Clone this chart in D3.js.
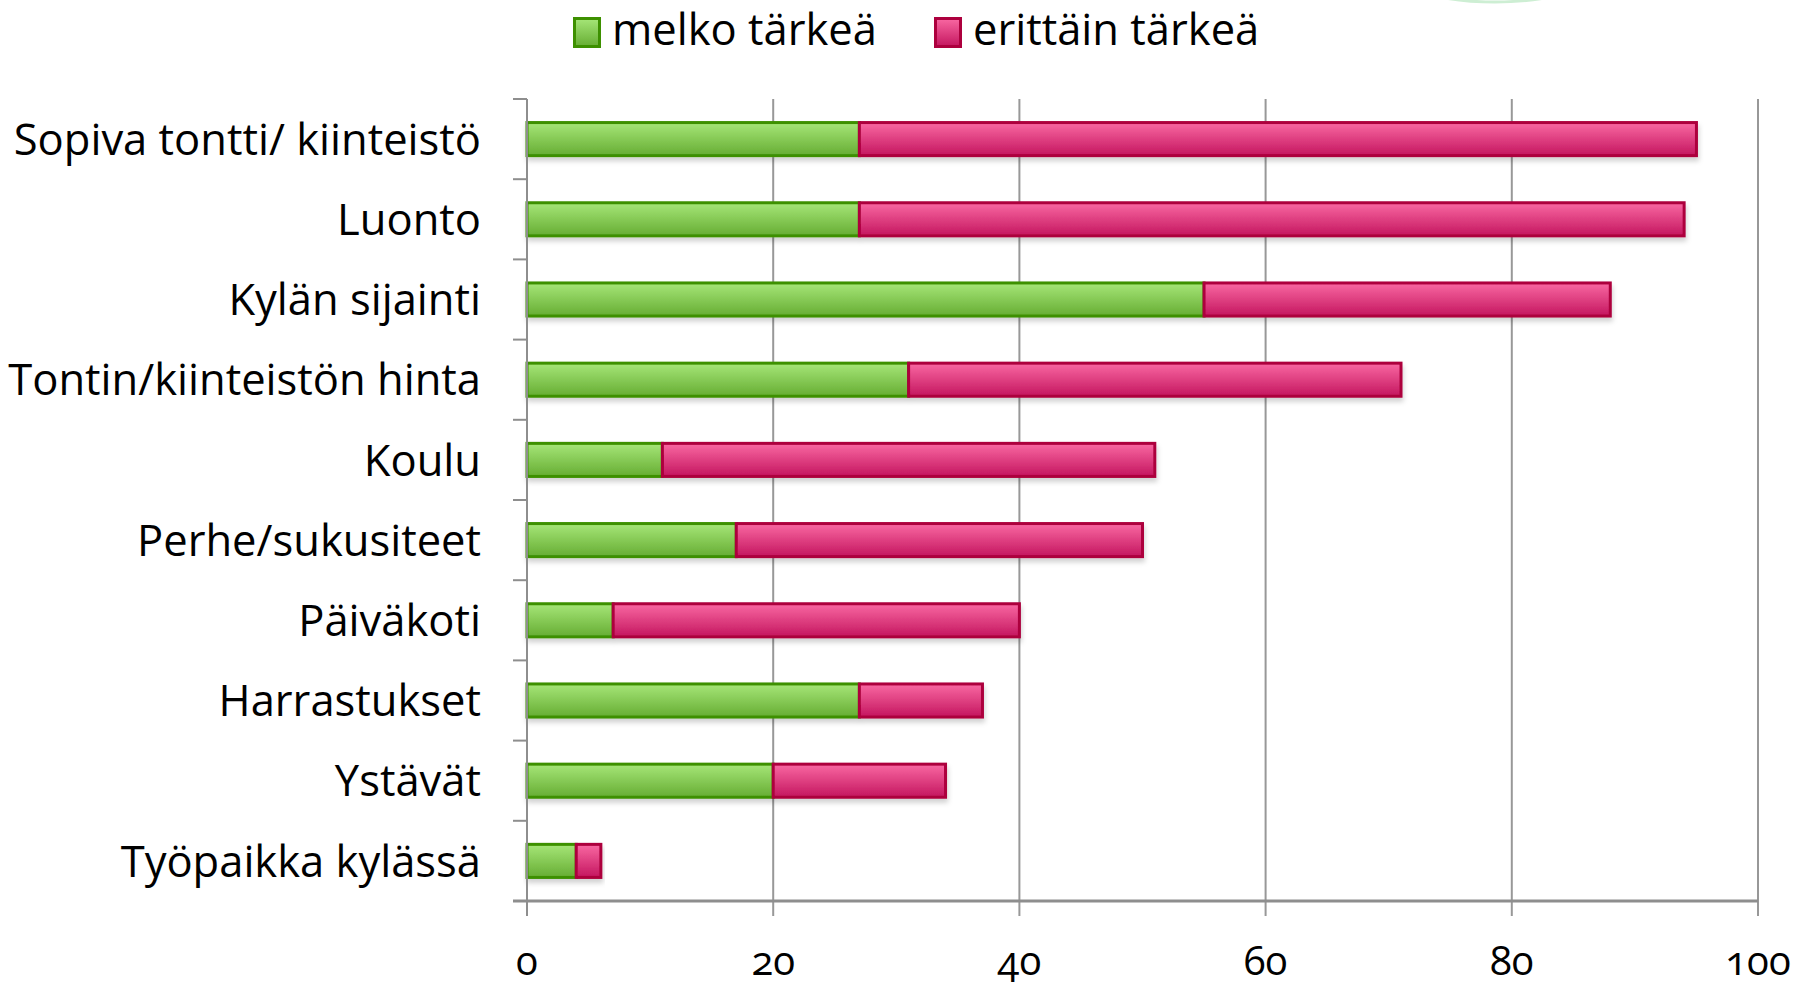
<!DOCTYPE html>
<html>
<head>
<meta charset="utf-8">
<script src="https://cdn.jsdelivr.net/npm/d3@7"></script>
<style>
  body { margin: 0; background: #fff; overflow: hidden; }
  svg { display: block; font-family: "Open Sans", Lato, sans-serif; }
  .num { font-variant-numeric: oldstyle-nums; font-feature-settings: "onum"; }
</style>
</head>
<body>
<svg id="chart" width="1798" height="984"></svg>
<script>
// data
const categories = ["Sopiva tontti/ kiinteistö", "Luonto", "Kylän sijainti", "Tontin/kiinteistön hinta",
  "Koulu", "Perhe/sukusiteet", "Päiväkoti", "Harrastukset", "Ystävät", "Työpaikka kylässä"];
const melko = [27, 27, 55, 31, 11, 17, 7, 27, 20, 4];
const erittain = [68, 67, 33, 40, 40, 33, 33, 10, 14, 2];
const seriesNames = ["melko tärkeä", "erittäin tärkeä"];
const xTicks = [0, 20, 40, 60, 80, 100];

const svg = d3.select('#chart');
const plotLeft = 527, plotRight = 1758, plotTop = 99, plotBottom = 901;

const x = d3.scaleLinear().domain([0, 100]).range([plotLeft, plotRight]);
const y = d3.scaleBand().domain(categories).range([plotTop, plotBottom]).paddingInner(0.55).paddingOuter(0.275);

// gradients for the bars
const defs = svg.append('defs');
function grad(id, c1, c2) {
    let g = defs.append('linearGradient').attr('id', id).attr('x1', 0).attr('x2', 0).attr('y1', 0).attr('y2', 1);
    g.append('stop').attr('offset', '0%').attr('stop-color', c1);
    g.append('stop').attr('offset', '100%').attr('stop-color', c2);
}
grad('gGreen', '#a6e678', '#66ad33');
grad('gPink', '#f968a2', '#c4165f');
defs.append('filter').attr('id', 'shadow').attr('x', '-5%').attr('y', '-20%').attr('width', '110%').attr('height', '160%')
    .append('feDropShadow').attr('dx', 1).attr('dy', 4).attr('stdDeviation', 2.5)
    .attr('flood-color', '#000').attr('flood-opacity', 0.18);

const colors = [
    { fill: 'url(#gGreen)', stroke: '#3d9000' },
    { fill: 'url(#gPink)', stroke: '#ad003e' }
];

// faint shape edge at the top
svg.append('ellipse').attr('cx', 1495).attr('cy', -40).attr('rx', 115).attr('ry', 42)
    .attr('fill', 'none').attr('stroke', '#cdeed3').attr('stroke-width', 3);

// gridlines
svg.append('g').selectAll('line')
    .data(xTicks.slice(1))
    .enter().append('line')
    .attr('x1', d => x(d)).attr('x2', d => x(d))
    .attr('y1', plotTop).attr('y2', plotBottom + 15)
    .attr('stroke', '#989898').attr('stroke-width', 2);

// stacked bars
const stacked = categories.map((c, i) => ({ cat: c, vals: [melko[i], erittain[i]] }));
const rows = svg.append('g').selectAll('g')
    .data(stacked)
    .enter().append('g')
    .attr('filter', 'url(#shadow)');

rows.each(function (d) {
    let g = d3.select(this);
    let start = 0;
    d.vals.forEach((v, k) => {
        g.append('rect')
            .attr('x', x(start))
            .attr('y', y(d.cat) + 1.5)
            .attr('width', x(start + v) - x(start))
            .attr('height', y.bandwidth() - 3)
            .attr('fill', colors[k].fill)
            .attr('stroke', colors[k].stroke)
            .attr('stroke-width', 3);
        start += v;
    });
});

// axes
const axisColor = '#8e8e8e';
svg.append('line').attr('x1', plotLeft).attr('x2', plotLeft).attr('y1', plotTop).attr('y2', plotBottom + 15)
    .attr('stroke', axisColor).attr('stroke-width', 2);
svg.append('line').attr('x1', plotLeft - 14).attr('x2', plotRight).attr('y1', plotBottom).attr('y2', plotBottom)
    .attr('stroke', axisColor).attr('stroke-width', 3);
svg.append('g').selectAll('line')
    .data(d3.range(categories.length))
    .enter().append('line')
    .attr('x1', plotLeft - 14).attr('x2', plotLeft)
    .attr('y1', i => plotTop + i * y.step()).attr('y2', i => plotTop + i * y.step())
    .attr('stroke', axisColor).attr('stroke-width', 2);

// category labels
svg.append('g').selectAll('text')
    .data(categories)
    .enter().append('text')
    .attr('x', 481)
    .attr('y', d => y(d) + y.bandwidth() / 2)
    .attr('dy', '0.36em')
    .attr('text-anchor', 'end')
    .attr('font-size', 43.5)
    .attr('fill', '#000')
    .text(d => d);

// x tick labels
svg.append('g').selectAll('text')
    .data(xTicks)
    .enter().append('text')
    .classed('num', true)
    .attr('x', d => x(d))
    .attr('y', 975)
    .attr('text-anchor', 'middle')
    .attr('font-size', 40)
    .attr('fill', '#000')
    .text(d => d);

// legend
const legendX = [573, 934];
const legend = svg.append('g').selectAll('g')
    .data(seriesNames)
    .enter().append('g');
legend.append('rect')
    .attr('x', (d, i) => legendX[i] + 1.5).attr('y', 18.5)
    .attr('width', 25).attr('height', 28)
    .attr('fill', (d, i) => colors[i].fill)
    .attr('stroke', (d, i) => colors[i].stroke).attr('stroke-width', 3);
legend.append('text')
    .attr('x', (d, i) => legendX[i] + 39).attr('y', 45)
    .attr('font-size', 43.5)
    .attr('fill', '#000')
    .text(d => d);
</script>
</body>
</html>
